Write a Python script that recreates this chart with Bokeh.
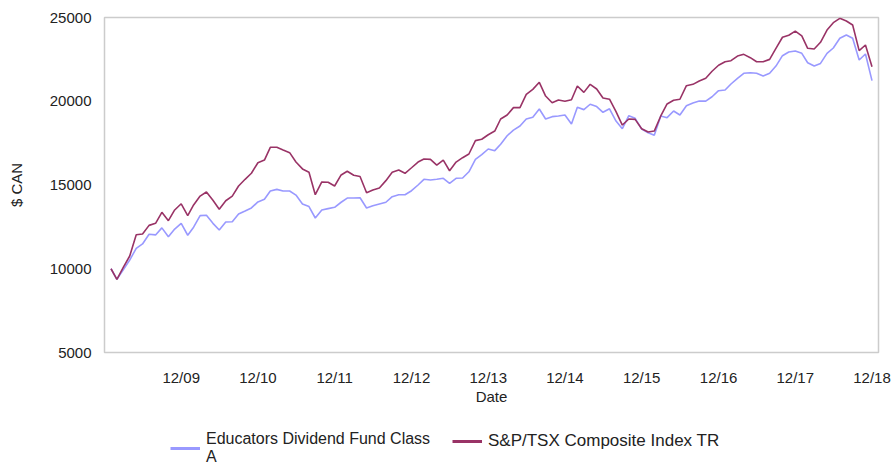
import pandas as pd
from bokeh.plotting import figure
from bokeh.layouts import column
from bokeh.models import (ColumnDataSource, FixedTicker, DatetimeTickFormatter, Range1d,
                          Legend, LegendItem, BasicTickFormatter)
from bokeh.embed import file_html
from bokeh.resources import INLINE

# ---- data ----
months = pd.date_range(start="2009-01-31", periods=120, freq="ME")

fund = [10000, 9370, 9950, 10520, 11220, 11480, 12060, 12020, 12440, 11910,
        12370, 12710, 12000, 12480, 13170, 13190, 12710, 12310, 12790, 12810,
        13270, 13450, 13630, 13990, 14150, 14640, 14740, 14640, 14640, 14400,
        13870, 13710, 13030, 13510, 13590, 13670, 13970, 14220, 14220, 14240,
        13630, 13760, 13870, 13970, 14300, 14420, 14420, 14660, 15000, 15340,
        15300, 15340, 15400, 15100, 15400, 15420, 15790, 16530, 16810, 17150,
        17050, 17430, 17940, 18280, 18520, 18940, 19040, 19540, 18940, 19080,
        19120, 19180, 18640, 19640, 19500, 19820, 19680, 19340, 19550, 18820,
        18360, 19140, 18980, 18340, 18120, 17970, 19120, 19020, 19420, 19180,
        19730, 19900, 20010, 20010, 20270, 20630, 20670, 21030, 21370, 21670,
        21700, 21670, 21510, 21670, 22100, 22720, 22940, 23000, 22860, 22300,
        22100, 22260, 22860, 23180, 23760, 23960, 23760, 22460, 22820, 21230]

index_tr = [10000, 9370, 10100, 10760, 12030, 12070, 12590, 12710, 13370, 12870,
            13510, 13880, 13170, 13810, 14340, 14580, 14090, 13550, 14060, 14340,
            14940, 15340, 15700, 16330, 16490, 17250, 17250, 17090, 16930, 16370,
            15960, 15760, 14420, 15180, 15160, 14940, 15600, 15820, 15580, 15510,
            14540, 14700, 14820, 15260, 15760, 15900, 15700, 16030, 16370, 16550,
            16530, 16190, 16490, 15850, 16370, 16630, 16850, 17650, 17730, 18000,
            18220, 18940, 19180, 19620, 19620, 20410, 20710, 21130, 20310, 19910,
            20070, 20000, 20090, 20910, 20530, 21010, 20730, 20190, 20120, 19380,
            18580, 18940, 18920, 18360, 18160, 18220, 19120, 19840, 20060, 20120,
            20930, 21010, 21210, 21370, 21790, 22150, 22360, 22420, 22700, 22800,
            22600, 22360, 22360, 22500, 23160, 23820, 23940, 24190, 23900, 23160,
            23120, 23520, 24250, 24690, 24950, 24790, 24550, 23020, 23360, 22060]

series_names = ["Educators Dividend Fund Class\nA", "S&P/TSX Composite Index TR"]
series_colors = ["#9999ff", "#993366"]
y_ticks = [5000, 10000, 15000, 20000, 25000]
x_tick_dates = pd.to_datetime(["2009-12-31", "2010-12-31", "2011-12-31", "2012-12-31",
                               "2013-12-31", "2014-12-31", "2015-12-31", "2016-12-31",
                               "2017-12-31", "2018-12-31"])

src = ColumnDataSource(dict(date=months, fund=fund, idx=index_tr))

FONT = "Liberation Sans"
TXT = "#222222"

p = figure(width=893, height=418, x_axis_type="datetime", output_backend="svg",
           toolbar_location=None,
           x_range=Range1d(pd.Timestamp("2008-12-31"), pd.Timestamp("2019-01-31")),
           y_range=Range1d(5000, 25000),
           min_border_left=104, min_border_right=15, min_border_top=17, min_border_bottom=66)

p.line("date", "fund", source=src, line_color=series_colors[0], line_width=1.6)
p.line("date", "idx", source=src, line_color=series_colors[1], line_width=1.6)

p.xgrid.visible = False
p.ygrid.visible = False
p.outline_line_color = "#cccccc"
p.outline_line_width = 1.5

xa = p.xaxis[0]
xa.ticker = FixedTicker(ticks=[d.value / 1e6 for d in x_tick_dates])
xa.formatter = DatetimeTickFormatter(days="%m/%y", months="%m/%y", years="%m/%y",
                                     hours="%m/%y", minutes="%m/%y", seconds="%m/%y",
                                     milliseconds="%m/%y", microseconds="%m/%y",
                                     minsec="%m/%y", hourmin="%m/%y")
xa.axis_label = "Date"

ya = p.yaxis[0]
ya.ticker = FixedTicker(ticks=y_ticks)
ya.formatter = BasicTickFormatter(use_scientific=False)
ya.axis_label = "$ CAN"

for ax in (xa, ya):
    ax.axis_line_color = None
    ax.major_tick_line_color = None
    ax.minor_tick_line_color = None
    ax.major_tick_out = 0
    ax.major_tick_in = 0
    ax.major_label_text_font = FONT
    ax.major_label_text_font_size = "15px"
    ax.major_label_text_color = TXT
    ax.axis_label_text_font = FONT
    ax.axis_label_text_font_size = "15px"
    ax.axis_label_text_font_style = "normal"
    ax.axis_label_text_color = TXT

xa.major_label_standoff = 16
xa.axis_label_standoff = -1
ya.major_label_standoff = 13
ya.axis_label_standoff = 22

# ---- legend strip (separate figure under the chart; frame aligned with chart) ----
lp = figure(width=893, height=47, output_backend="svg", toolbar_location=None,
            x_axis_location=None, y_axis_location=None,
            x_range=Range1d(0, 1), y_range=Range1d(0, 1),
            min_border_left=0, min_border_right=0, min_border_top=0, min_border_bottom=0)
lp.outline_line_color = None
lp.xgrid.visible = False
lp.ygrid.visible = False
nan = float("nan")
dummy = [lp.line(x=[nan], y=[nan], line_color=c, line_width=3) for c in series_colors]


def mk_legend(label, rend, loc, size):
    return Legend(items=[LegendItem(label=label, renderers=[rend])],
                  location=loc, orientation="horizontal",
                  label_text_font=FONT, label_text_font_size=size,
                  label_text_color=TXT, label_standoff=6, glyph_width=30,
                  glyph_height=20, padding=0, margin=0, spacing=0,
                  background_fill_alpha=0, border_line_alpha=0,
                  label_text_line_height=1.1)


lp.add_layout(mk_legend(series_names[0], dummy[0], (66, -1), "16px"))
lp.add_layout(mk_legend(series_names[1], dummy[1], (348, 14), "17px"))

layout = column(p, lp, spacing=0)
open("out.html", "w").write(file_html(layout, INLINE))
